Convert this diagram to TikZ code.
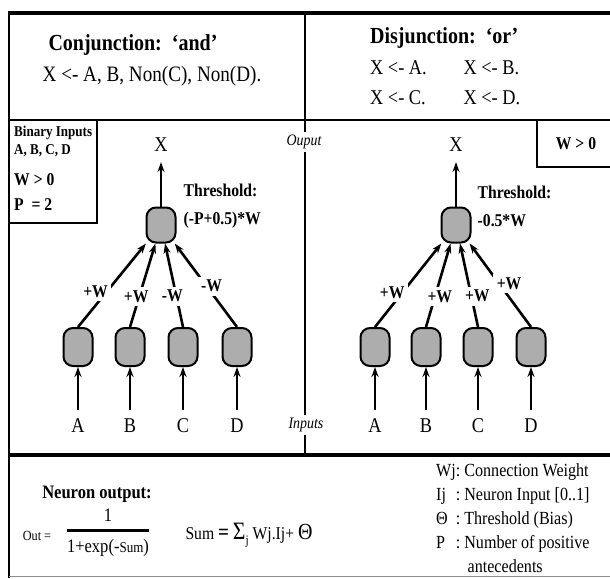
\documentclass[tikz,border=0pt]{standalone}
\usepackage{fontspec}
\setmainfont{Liberation Serif}[FakeStretch=0.87]
\usepackage{amsmath}
\usetikzlibrary{arrows.meta,positioning}
\newcommand{\fsz}[1]{\fontsize{#1}{#1}\selectfont}

\begin{document}
\begin{tikzpicture}[
  x=1pt, y=-1pt, >={Stealth[length=10pt,width=7pt]},
  neuron/.style={draw, line width=2pt, fill=black!32, rounded corners=9.5pt,
    minimum width=29pt, minimum height=38pt, inner sep=0pt},
  link/.style={->, line width=2.6pt},
  wlab/.style={fill=white, inner sep=3.5pt, font=\fsz{18}\bfseries},
  letter/.style={font=\fsz{21}, inner sep=2pt},
  thr/.style={align=left, inner sep=0pt, font=\fsz{18}\bfseries},
  rule/.style={line width=2pt},
  heavy/.style={line width=4.5pt},
]
\useasboundingbox (0,0) rectangle (610,578);

% ── frame ────────────────────────────────────────────────────────────
\draw[heavy] (8,13) -- (614,13);
\draw[heavy] (9,455) -- (614,455);
\draw[rule] (9,120) -- (614,120);
\draw[line width=2pt] (9,11) -- (9,578);
\draw[black!45, line width=1pt] (9,576.5) -- (614,576.5);
\draw[rule] (305,13) -- (305,455);

% ── rules: and / or ──────────────────────────────────────────────────
\node[font=\fsz{23}\bfseries] (conj) at (133,45) {Conjunction:\ \ ‘and’};
\node[font=\fsz{22}] (conjrule) at (152,76) {X <- A, B, Non(C), Non(D).};
\node[font=\fsz{23}\bfseries, anchor=west, inner sep=0pt] (disj) at (370,38) {Disjunction:\ \ ‘or’};
\node[font=\fsz{21}, anchor=north west, inner sep=0pt] (disjrule) at (370,53)
  {\renewcommand{\arraystretch}{1.45}%
   \begin{tabular}{@{}l@{\hspace{37pt}}l@{}}
   X <- A. & X <- B.\\
   X <- C. & X <- D.
   \end{tabular}};

% ── givens ───────────────────────────────────────────────────────────
\draw[rule] (9,120) rectangle (97,223);
\node[align=left, anchor=north west, inner sep=0pt, font=\fsz{15}\bfseries] (binin) at (14,126)
  {Binary Inputs\\[3pt]A, B, C, D};
\node[align=left, anchor=north west, inner sep=0pt, font=\fsz{18}\bfseries] (wp) at (14,173)
  {W > 0\\[7pt]P\ \ = 2};
\draw[rule] (614,120) -| (537,167) -- (614,167);
\node[font=\fsz{18}\bfseries] (wpos) at (576,144) {W > 0};

% ── middle labels ────────────────────────────────────────────────────
\node[fill=white, inner sep=3pt, font=\fsz{16}\itshape] (ouput) at (304,142) {Ouput};
\node[fill=white, inner sep=3pt, font=\fsz{16}\itshape] (inputs) at (306,425) {Inputs};

% ── conjunction net ──────────────────────────────────────────────────
\foreach \i/\x in {A/78,B/130,C/183,D/237}{
  \node[neuron] (l\i) at (\x,347) {};
  \node[letter] (la\i) at (\x,426) {\i};
  \draw[link, shorten <=7pt] (la\i) -- (l\i);
}
\node[neuron, minimum height=35pt] (lout) at (161,225) {};
\node[letter] (lX) at (161,145) {X};
\draw[link, shorten >=8pt] (lout) -- (lX);
\node[thr, right=7pt of lout, yshift=19pt] (lthr) {Threshold:\\[10pt](-P+0.5)*W};
\foreach \i/\w/\p/\s in {A/+W/.42/-11, B/+W/.36/-3, C/-W/.37/-4, D/-W/.49/5}
  \draw[link] (l\i.north) -- node[wlab, pos=\p, xshift=\s pt] {\w} (lout);

% ── disjunction net ──────────────────────────────────────────────────
\foreach \i/\x in {A/375,B/426,C/478,D/531}{
  \node[neuron] (r\i) at (\x,347) {};
  \node[letter] (ra\i) at (\x,426) {\i};
  \draw[link, shorten <=7pt] (ra\i) -- (r\i);
}
\node[neuron, minimum height=35pt] (rout) at (456,225) {};
\node[letter] (rX) at (456,145) {X};
\draw[link, shorten >=8pt] (rout) -- (rX);
\node[thr, right=6pt of rout, yshift=19pt] (rthr) {Threshold:\\[10pt]-0.5*W};
\foreach \i/\p/\s in {A/.41/-10, B/.36/5, C/.37/6, D/.52/10}
  \draw[link] (r\i.north) -- node[wlab, pos=\p, xshift=\s pt] {+W} (rout);

% ── neuron output ────────────────────────────────────────────────────
\node[font=\fsz{19}\bfseries] (nout) at (97,494) {Neuron output:};
\node[font=\fsz{14}] (outeq) at (37,536) {Out =};
\node[font=\fsz{19}] (frac) at (108,533)
  {$\genfrac{}{}{2.5pt}{0}{\text{1}}{\text{1+exp(-{\fsz{15}Sum})}}$};
\node[font=\fsz{18}] (sumeq) at (249,535)
  {Sum {\fsz{22}\bfseries =} {\fsz{25}Σ}\raisebox{-5pt}{\fsz{13}j} Wj.Ij+ {\fsz{23}Θ}};

% ── legend ───────────────────────────────────────────────────────────
\node[anchor=north west, inner sep=0pt, font=\fsz{18.5}] (legend) at (436,459)
  {\renewcommand{\arraystretch}{1.3}%
   \begin{tabular}{@{}l@{:\ }l@{}}
   Wj & Connection Weight\\
   Ij\ & Neuron Input [0..1]\\
   Θ & Threshold (Bias)\\
   P & Number of positive\\
   \multicolumn{2}{@{}l}{\hspace{1.7em}antecedents}
   \end{tabular}};

\end{tikzpicture}
\end{document}
